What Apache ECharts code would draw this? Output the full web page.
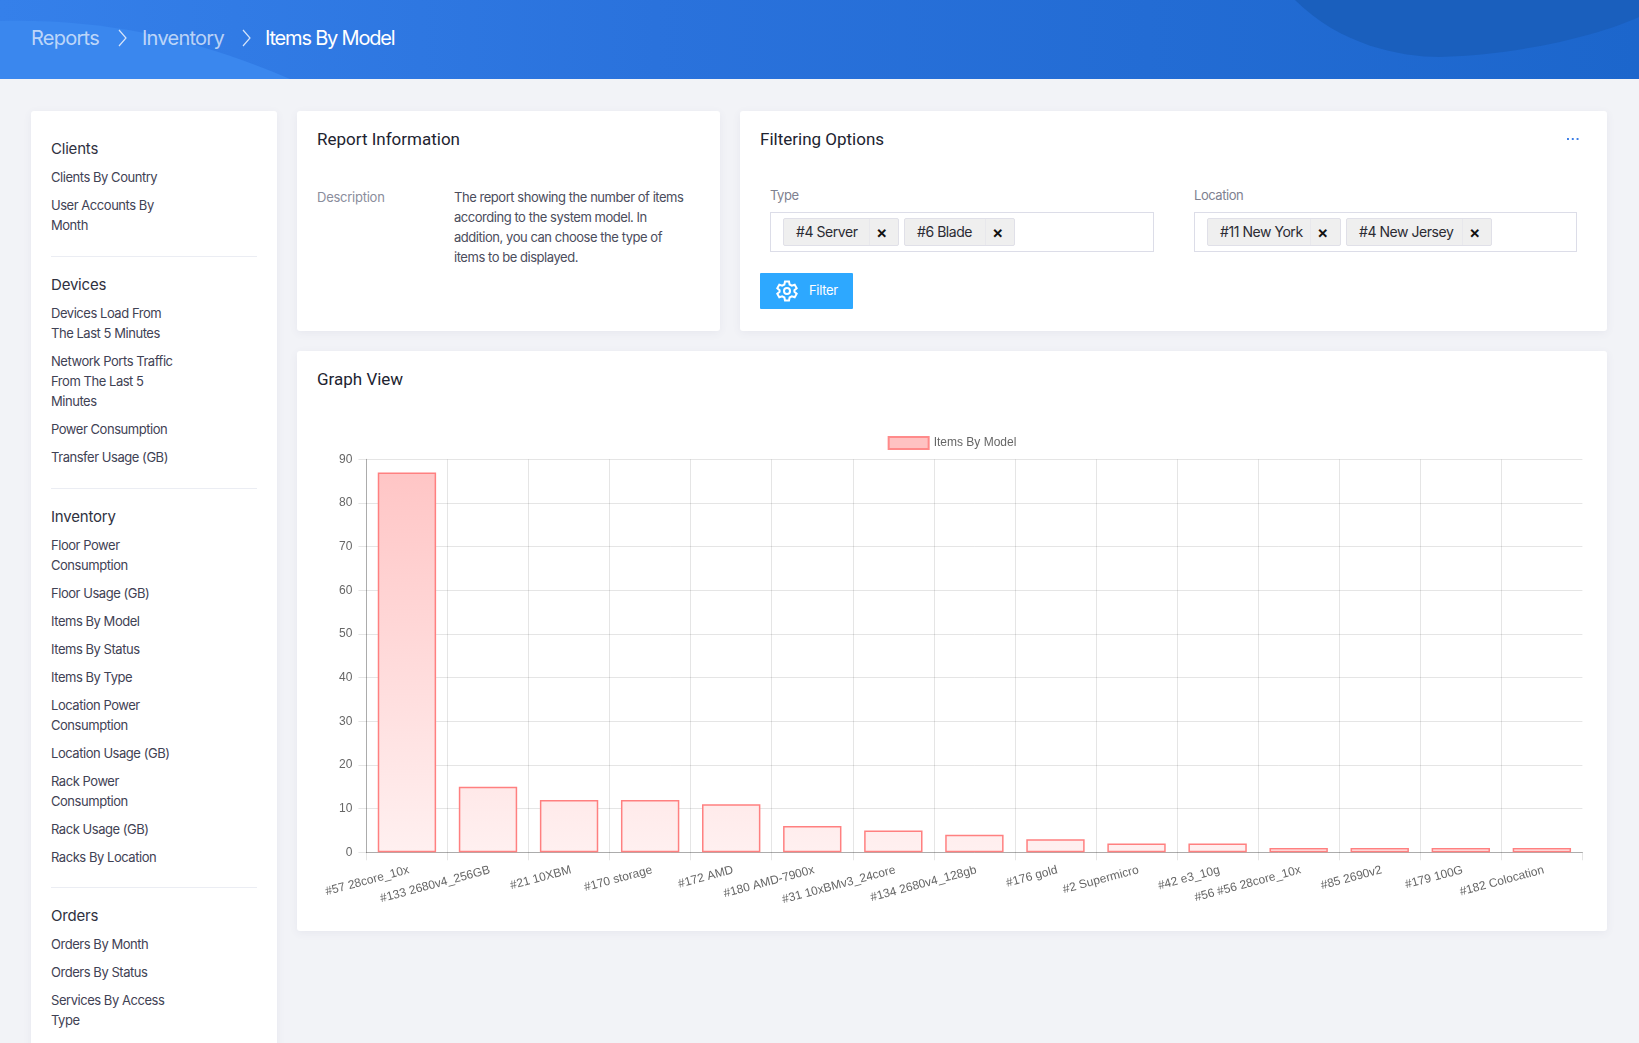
<!DOCTYPE html>
<html>
<head>
<meta charset="utf-8">
<title>Items By Model</title>
<script src="https://cdn.jsdelivr.net/npm/echarts@6/dist/echarts.min.js"></script>
<style>
* { box-sizing: border-box; }
html, body { margin: 0; padding: 0; width: 1639px; height: 1043px; overflow: hidden; background: #f2f3f7; font-family: Inter, sans-serif; }
.header { position: absolute; left: 0; top: 0; width: 1639px; height: 79px; background: linear-gradient(90deg, #3580ea 0%, #2a72dc 40%, #1c66cc 100%); overflow: hidden; }
.header svg { position: absolute; left: 0; top: 0; }
.crumb { position: absolute; top: 24px; line-height: 28px; font-size: 20px; letter-spacing: -0.75px; color: rgba(255,255,255,.68); white-space: nowrap; }
.crumb.on { color: #fff; letter-spacing: -1.2px; }
.card { position: absolute; background: #fff; border-radius: 3px; box-shadow: 0 2px 8px rgba(80,90,130,.07); }
.side { left: 31px; top: 111px; width: 246px; height: 1000px; padding: 27px 20px 0; color: #3f4254; }
.side h4 { margin: 0; font-weight: 400; font-size: 15px; line-height: 22px; letter-spacing: -0.2px; color: #2f3140; }
.side a { display: block; margin-top: 8px; font-size: 13px; line-height: 20px; letter-spacing: -0.46px; color: #3f4254; }
.side h4 + a { margin-top: 7px; }
.side hr { border: 0; border-top: 1px solid #ebedf3; margin: 21px 0 17px; }
.side hr:last-of-type { margin-top: 20px; }
.title { position: absolute; font-family: Roboto, sans-serif; font-size: 17px; line-height: 24px; color: #212330; white-space: nowrap; }
.txt { position: absolute; font-size: 13px; line-height: 20px; letter-spacing: -0.46px; white-space: nowrap; }
.box { position: absolute; top: 212px; height: 40px; border: 1px solid #dcdde8; }
.tag { position: absolute; top: 218px; height: 28px; background: #efefef; border: 1px solid #e0e0e8; border-radius: 2px; font-size: 14px; line-height: 26px; letter-spacing: -0.45px; color: #2b2b33; }
.tag b { position: absolute; top: 0; font-weight: 600; font-size: 17px; color: #111; letter-spacing: 0; }
.tag i { position: absolute; top: 0; bottom: 0; width: 1px; background: #e8e8ec; }
.tag span { position: absolute; left: 12px; white-space: nowrap; }
.btn { position: absolute; left: 760px; top: 273px; width: 93px; height: 36px; background: #2da8ff; color: #fff; font-size: 13px; line-height: 34px; letter-spacing: -0.3px; border-radius: 1px; }
.dots { position: absolute; left: 1567px; top: 138px; width: 13px; height: 2px; background: radial-gradient(circle at 1px 1px, #3d7ee6 1px, transparent 1.2px) 0 0 / 4.8px 2px repeat-x; }
#chart { position: absolute; left: 297px; top: 351px; width: 1310px; height: 580px; }
</style>
</head>
<body>
<div class="header">
  <svg width="1639" height="79">
    <path d="M0 21 C110 18 205 42 290 79 L0 79 Z" fill="#3a87ee"/>
    <path d="M1295 0 C1340 45 1400 57 1440 57 C1520 55 1600 35 1639 17 L1639 0 Z" fill="#1a5fbd"/>
    <path d="M119 30 L126 38 L119 46 M243 30 L250 38 L243 46" fill="none" stroke="#d5e4fa" stroke-width="1.2"/>
  </svg>
  <div class="crumb" style="left:31px">Reports</div>
  <div class="crumb" style="left:142px">Inventory</div>
  <div class="crumb on" style="left:265px">Items By Model</div>
</div>

<div class="card side" id="side"></div>

<div class="card" style="left:297px;top:111px;width:423px;height:220px"></div>
<div class="title" style="left:317px;top:127px">Report Information</div>
<div class="txt" style="left:317px;top:186.5px;color:#8a8d9c;letter-spacing:-0.25px">Description</div>
<div class="txt" style="left:454px;top:186.5px;color:#4b4d5c">The report showing the number of items<br>according to the system model. In<br>addition, you can choose the type of<br>items to be displayed.</div>

<div class="card" style="left:740px;top:111px;width:867px;height:220px"></div>
<div class="title" style="left:760px;top:127px">Filtering Options</div>
<div class="dots"></div>
<div class="txt" style="left:770px;top:185px;color:#7e8190">Type</div>
<div class="txt" style="left:1194px;top:185px;color:#7e8190">Location</div>
<div class="box" style="left:770px;width:384px"></div>
<div class="box" style="left:1194px;width:383px"></div>
<div class="tag" style="left:783px;width:116px"><span>#4 Server</span><i style="left:85px"></i><b style="left:92px">×</b></div>
<div class="tag" style="left:904px;width:111px"><span>#6 Blade</span><i style="left:80px"></i><b style="left:87px">×</b></div>
<div class="tag" style="left:1207px;width:134px"><span>#11 New York</span><i style="left:102px"></i><b style="left:109px">×</b></div>
<div class="tag" style="left:1346px;width:146px"><span>#4 New Jersey</span><i style="left:115px"></i><b style="left:122px">×</b></div>
<div class="btn">
  <svg width="24" height="24" viewBox="0 0 24 24" style="position:absolute;left:15px;top:6px" fill="none" stroke="#fff" stroke-width="2">
    <circle cx="12" cy="12" r="3"/>
    <path d="M10 2.5h4l.6 3 2.2 1.2 2.9-1 2 3.5-2.3 2v1.6l2.3 2-2 3.5-2.9-1-2.2 1.2-.6 3h-4l-.6-3-2.2-1.2-2.9 1-2-3.5 2.3-2v-1.6l-2.3-2 2-3.5 2.9 1 2.2-1.2z"/>
  </svg>
  <span style="position:absolute;left:49px">Filter</span>
</div>

<div class="card" style="left:297px;top:351px;width:1310px;height:580px"></div>
<div class="title" style="left:317px;top:367px">Graph View</div>
<div id="chart"></div>

<script>
var seriesName = "Items By Model";
var categories = ["#57 28core_10x", "#133 2680v4_256GB", "#21 10XBM", "#170 storage", "#172 AMD", "#180 AMD-7900x", "#31 10xBMv3_24core", "#134 2680v4_128gb", "#176 gold", "#2 Supermicro", "#42 e3_10g", "#56 #56 28core_10x", "#85 2690v2", "#179 100G", "#182 Colocation"];
var itemCounts = [87, 15, 12, 12, 11, 6, 5, 4, 3, 2, 2, 1, 1, 1, 1];
var yTicks = [0, 90, 10];

// sidebar menu, \n is a forced line break
var menuTitles = ["Clients", "Devices", "Inventory", "Orders"];
var menuItems = [
    ["Clients By Country", "User Accounts By\nMonth"],
    ["Devices Load From\nThe Last 5 Minutes", "Network Ports Traffic\nFrom The Last 5\nMinutes", "Power Consumption", "Transfer Usage (GB)"],
    ["Floor Power\nConsumption", "Floor Usage (GB)", "Items By Model", "Items By Status", "Items By Type", "Location Power\nConsumption", "Location Usage (GB)", "Rack Power\nConsumption", "Rack Usage (GB)", "Racks By Location"],
    ["Orders By Month", "Orders By Status", "Services By Access\nType"]
];

var sideHtml = "";
for (var i = 0; i < menuTitles.length; i++) {
    if (i > 0) sideHtml += "<hr>";
    sideHtml += "<h4>" + menuTitles[i] + "</h4>";
    for (var j = 0; j < menuItems[i].length; j++) {
        sideHtml += "<a>" + menuItems[i][j].replace(/\n/g, "<br>") + "</a>";
    }
}
document.getElementById("side").innerHTML = sideHtml;

var chart = echarts.init(document.getElementById("chart"));
var gridTop = 108.3, gridHeight = 393;
// the fill fades over the whole plot height, so short bars stay pale
var barFill = new echarts.graphic.LinearGradient(0, gridTop, 0, gridTop + gridHeight, [
    { offset: 0, color: "#ffc4c4" },
    { offset: 1, color: "#fff0f0" }
], true);
chart.setOption({
    animation: false,
    textStyle: { fontFamily: "Liberation Sans, Arial, sans-serif" },
    legend: {
        top: 80,
        left: "center",
        icon: "rect",
        itemWidth: 40,
        itemHeight: 12,
        itemGap: 5,
        data: [seriesName],
        itemStyle: { color: "#ffc2c2", borderColor: "#ff8a8a", borderWidth: 2 },
        textStyle: { color: "#666", fontSize: 12, fontFamily: "Liberation Sans, Arial, sans-serif" }
    },
    grid: { left: 69.4, top: gridTop, width: 1216, height: gridHeight },
    xAxis: {
        type: "category",
        data: categories,
        axisLine: { lineStyle: { color: "rgba(0,0,0,0.25)" } },
        axisTick: { show: true, length: 8, lineStyle: { color: "rgba(0,0,0,0.1)" } },
        axisLabel: { rotate: 15, interval: 0, color: "#666", fontSize: 12, margin: 18, padding: [0, -2, 0, 0] },
        splitLine: { show: true, showMaxLine: false, lineStyle: { color: "rgba(0,0,0,0.1)" } }
    },
    yAxis: {
        type: "value",
        min: yTicks[0],
        max: yTicks[1],
        interval: yTicks[2],
        axisLine: { show: true, lineStyle: { color: "rgba(0,0,0,0.25)" } },
        axisTick: { show: true, length: 8, lineStyle: { color: "rgba(0,0,0,0.1)" } },
        axisLabel: { color: "#666", fontSize: 12, margin: 14 },
        splitLine: { show: true, lineStyle: { color: "rgba(0,0,0,0.1)" } }
    },
    series: [{
        name: seriesName,
        type: "bar",
        data: itemCounts,
        barWidth: "72%",
        itemStyle: { color: barFill, borderColor: "#ff8080", borderWidth: 1.5 }
    }]
});
</script>
</body>
</html>
